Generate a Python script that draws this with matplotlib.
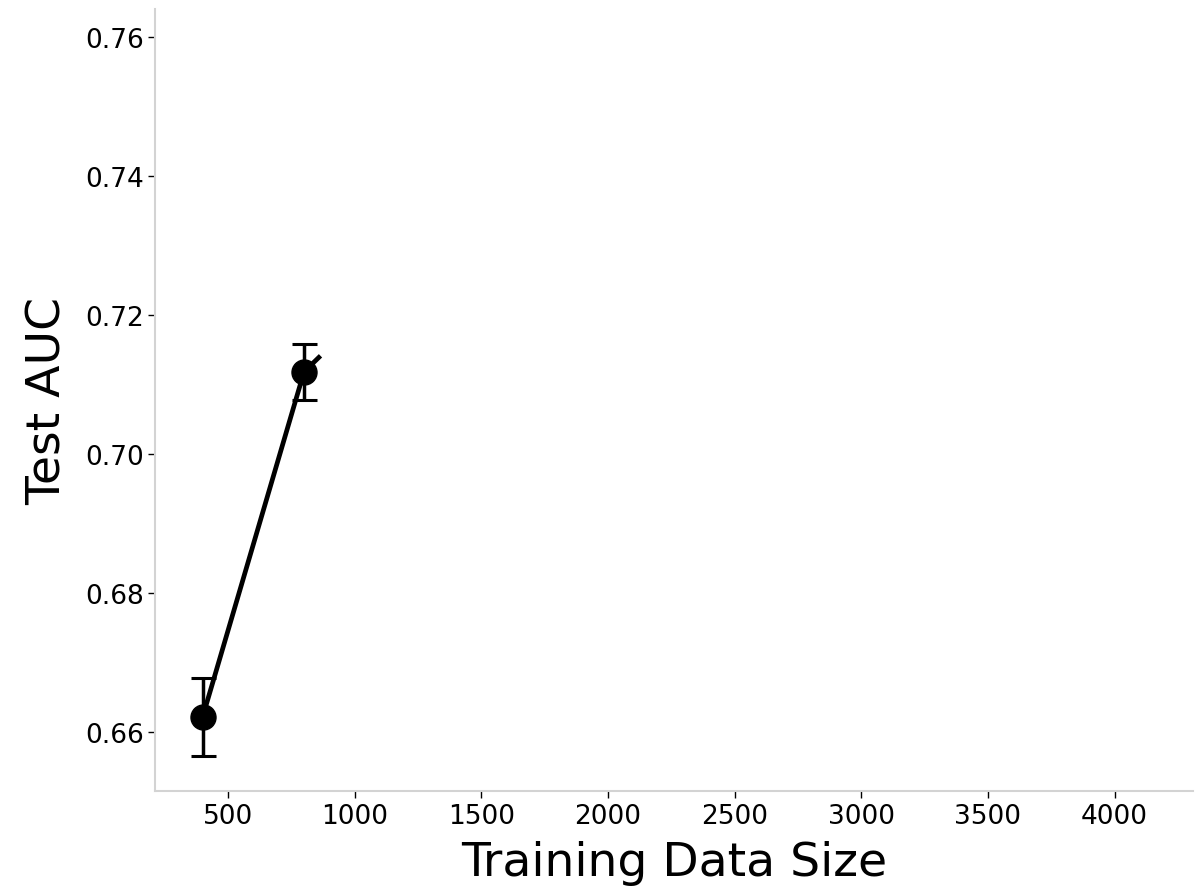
import matplotlib
matplotlib.use("Agg")
import matplotlib.pyplot as plt

# Test AUC against training set size (mean +/- error)
sizes = [400, 800]
auc = [0.6622, 0.7118]
auc_err = [0.0056, 0.0040]

# line drawn so far, heading toward the next size
trace_x = [400, 800, 865]
trace_y = [0.6622, 0.7118, 0.7141]

x_ticks = [500, 1000, 1500, 2000, 2500, 3000, 3500, 4000]
y_ticks = [0.66, 0.68, 0.70, 0.72, 0.74, 0.76]

fig, ax = plt.subplots(figsize=(11.95, 8.95), dpi=100)
fig.subplots_adjust(left=0.13, right=0.998, top=0.989, bottom=0.115)

ax.plot(trace_x, trace_y, color="black", linewidth=3.4, solid_capstyle="butt")
ax.errorbar(sizes, auc, yerr=auc_err, fmt="o", color="black",
            markersize=18, elinewidth=2.5, capsize=9, capthick=2.2)

ax.set_xlim(213, 4308)
ax.set_ylim(0.6515, 0.764)
ax.set_xticks(x_ticks)
ax.set_yticks(y_ticks)
ax.set_yticklabels([f"{v:.2f}" for v in y_ticks])
ax.tick_params(labelsize=19, length=5, width=1, colors="black")

for side in ("top", "right"):
    ax.spines[side].set_visible(False)
for side in ("left", "bottom"):
    ax.spines[side].set_color("#d3d3d3")
    ax.spines[side].set_linewidth(1.5)

ax.set_xlabel("Training Data Size", fontsize=34, labelpad=8)
ax.set_ylabel("Test AUC", fontsize=34, labelpad=10)

fig.savefig("out.png", dpi=100)
